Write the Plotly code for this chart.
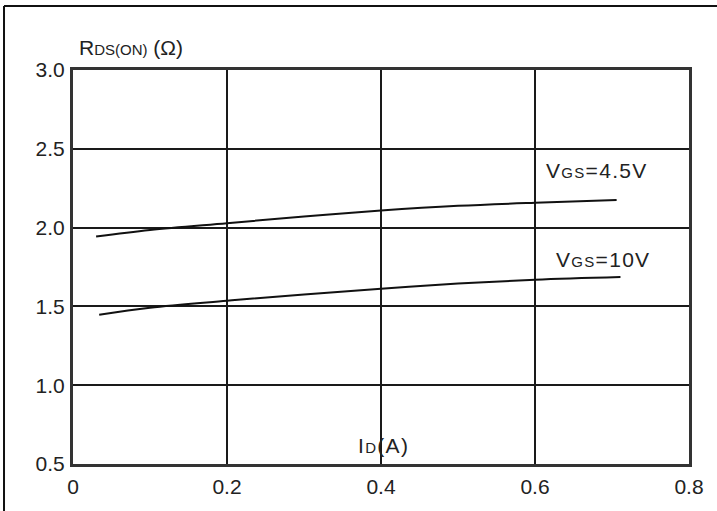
import plotly.graph_objects as go

# Drain current (A) and on-resistance (ohm) for two gate drives
id_45 = [0.03, 0.1, 0.2, 0.3, 0.4, 0.5, 0.6, 0.706]
rds_45 = [1.943, 1.985, 2.028, 2.07, 2.108, 2.138, 2.158, 2.175]
id_10 = [0.034, 0.1, 0.2, 0.3, 0.4, 0.5, 0.6, 0.711]
rds_10 = [1.447, 1.492, 1.536, 1.576, 1.612, 1.645, 1.669, 1.686]

x_ticks = [0, 0.2, 0.4, 0.6, 0.8]
x_tick_text = ["0", "0.2", "0.4", "0.6", "0.8"]
y_ticks = [0.5, 1.0, 1.5, 2.0, 2.5, 3.0]
y_tick_text = ["0.5", "1.0", "1.5", "2.0", "2.5", "3.0"]

FONT = "Liberation Sans, Arial, sans-serif"
TXT = "#222"

fig = go.Figure()
for xs, ys in [(id_45, rds_45), (id_10, rds_10)]:
    fig.add_trace(go.Scatter(x=xs, y=ys, mode="lines", line=dict(color="#111", width=2, shape="spline"),
                             showlegend=False, hoverinfo="skip"))

axis_common = dict(showgrid=True, gridcolor="#1a1a1a", gridwidth=2, zeroline=False,
                   showline=True, linecolor="#333", linewidth=3, mirror=True, ticks="",
                   tickfont=dict(family=FONT, size=21, color=TXT))
fig.update_xaxes(range=[0, 0.8], tickvals=x_ticks, ticktext=x_tick_text, ticklabelstandoff=2, **axis_common)
fig.update_yaxes(range=[0.5, 3.0], tickvals=y_ticks, ticktext=y_tick_text, ticklabelstandoff=1, **axis_common)


def label(main, sub, rest, sp):
    """Main letter, small-caps subscript part, then the rest, with letter spacing."""
    return (f"<span style='letter-spacing:{sp}px'>{main}</span>"
            f"<span style='font-size:15px;letter-spacing:{sp}px'>{sub}</span>"
            f"<span style='letter-spacing:{sp}px'>{rest}</span>")


annotations = [
    dict(x=0.612, y=2.36, xref="x", yref="y", xanchor="left", yanchor="middle",
         text=label("V", "GS", "=4.5V", 1.3)),
    dict(x=0.625, y=1.80, xref="x", yref="y", xanchor="left", yanchor="middle",
         text=label("V", "GS", "=10V", 1.3)),
    dict(x=0.006, y=1.058, xref="paper", yref="paper", xanchor="left", yanchor="middle",
         text=label("R", "DS(ON)", " (Ω)", 0)),
    dict(x=0.4026, y=0.615, xref="x", yref="y", xanchor="center", yanchor="middle",
         text=label("I", "D", "(A)", 1.3)),
]
for a in annotations:
    a.update(showarrow=False, font=dict(family=FONT, size=21, color=TXT))

# Outer frame: top and left edges
shapes = [
    dict(type="line", xref="paper", yref="paper", x0=-0.112, x1=1.05, y0=1.1624, y1=1.1624,
         line=dict(color="#111", width=2)),
    dict(type="line", xref="paper", yref="paper", x0=-0.112, x1=-0.112, y0=-0.13, y1=1.1624,
         line=dict(color="#111", width=2)),
]

fig.update_layout(width=717, height=511, margin=dict(l=73, r=28, t=70, b=47),
                  paper_bgcolor="white", plot_bgcolor="white",
                  annotations=annotations, shapes=shapes)

fig.write_html("out.html")
